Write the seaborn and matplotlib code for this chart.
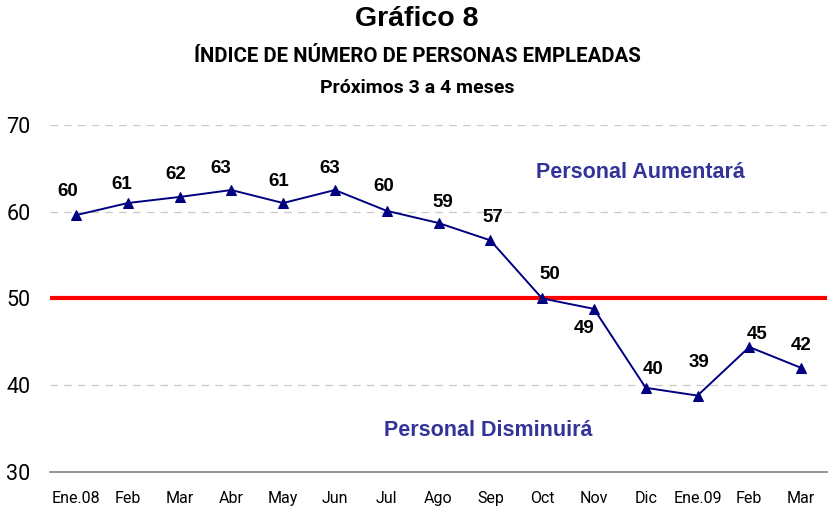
import matplotlib
matplotlib.use("Agg")
import matplotlib.pyplot as plt
from matplotlib import font_manager
import pandas as pd
import seaborn as sns

# data
meses = ["Ene.08", "Feb", "Mar", "Abr", "May", "Jun", "Jul", "Ago", "Sep",
         "Oct", "Nov", "Dic", "Ene.09", "Feb", "Mar"]
indice = [59.6, 61.0, 61.7, 62.5, 61.0, 62.5, 60.1, 58.7, 56.7,
          50.0, 48.8, 39.7, 38.8, 44.4, 42.0]
etiquetas = ["60", "61", "62", "63", "61", "63", "60", "59", "57",
             "50", "49", "40", "39", "45", "42"]

# label offsets in pixels (dx, dy) relative to the point
offsets = [(-8, 24), (-6, 19), (-4, 22), (-11, 22), (-4, 22), (-5, 22), (-3, 24),
           (4, 20), (3, 23), (8, 24), (-10, -20), (7, 18), (1, 33), (8, 13), (0, 22)]

df = pd.DataFrame({"pos": range(len(meses)), "indice": indice})

names = {f.name for f in font_manager.fontManager.ttflist}
narrow = "Liberation Sans Narrow" if "Liberation Sans Narrow" in names else "Roboto"
sans = "Liberation Sans"

sns.set_style("white")
plt.rcParams["font.family"] = [sans, "DejaVu Sans"]
plt.rcParams["text.color"] = "black"
plt.rcParams["xtick.color"] = "black"
plt.rcParams["ytick.color"] = "black"

fig = plt.figure(figsize=(8.34, 5.08), dpi=100)
ax = fig.add_axes([0.06, 0.071, 0.9316, 0.683])

sns.lineplot(data=df, x="pos", y="indice", ax=ax, color="#000080", linewidth=1.4,
             marker="^", markersize=7, markeredgecolor="#000080", zorder=4)
ax.axhline(50, color="#ff0000", linewidth=3, zorder=3)

for i, (v, t) in enumerate(zip(indice, etiquetas)):
    dx, dy = offsets[i]
    ax.annotate(t, (i, v), xytext=(dx * 0.72, dy * 0.72), textcoords="offset points",
                ha="center", va="center", fontsize=13.5, fontweight="bold",
                color="black", family=[sans, "DejaVu Sans"])

ax.text(10.9, 64.5, "Personal Aumentará", ha="center", va="center", fontsize=15.5,
        fontweight="bold", color="#333399")
ax.text(7.96, 34.8, "Personal Disminuirá", ha="center", va="center", fontsize=15.5,
        fontweight="bold", color="#333399")

ax.set_xlim(-0.5, 14.5)
ax.set_ylim(30, 70)
ax.set_yticks([30, 40, 50, 60, 70])
ax.set_xticks(range(len(meses)))
ax.set_xticklabels(meses, family=[narrow, "DejaVu Sans"], fontsize=11.5)
ax.set_yticklabels(["30", "40", "50", "60", "70"], family=[narrow, "DejaVu Sans"],
                   fontsize=15.5)
ax.tick_params(axis="both", length=0)
ax.tick_params(axis="x", pad=14)
ax.tick_params(axis="y", pad=14)
ax.set_xlabel("")
ax.set_ylabel("")

for y in [40, 60, 70]:
    ax.axhline(y, color="#c8c8c8", linewidth=0.9, linestyle=(0, (6, 5)), zorder=1)

for s in ["top", "right", "left"]:
    ax.spines[s].set_visible(False)
ax.spines["bottom"].set_color("#808080")
ax.spines["bottom"].set_linewidth(1.2)

fig.text(0.5, 0.962, "Gráfico 8", ha="center", va="center", fontsize=20.5,
         fontweight="bold", family=[sans, "DejaVu Sans"])
fig.text(0.5, 0.889, "ÍNDICE DE NÚMERO DE PERSONAS EMPLEADAS", ha="center",
         va="center", fontsize=14.7, fontweight="bold", family=[narrow, "DejaVu Sans"])
fig.text(0.5, 0.826, "Próximos 3 a 4 meses", ha="center", va="center",
         fontsize=14, fontweight="bold", family=[narrow, "DejaVu Sans"])

fig.savefig("out.png", dpi=100)
